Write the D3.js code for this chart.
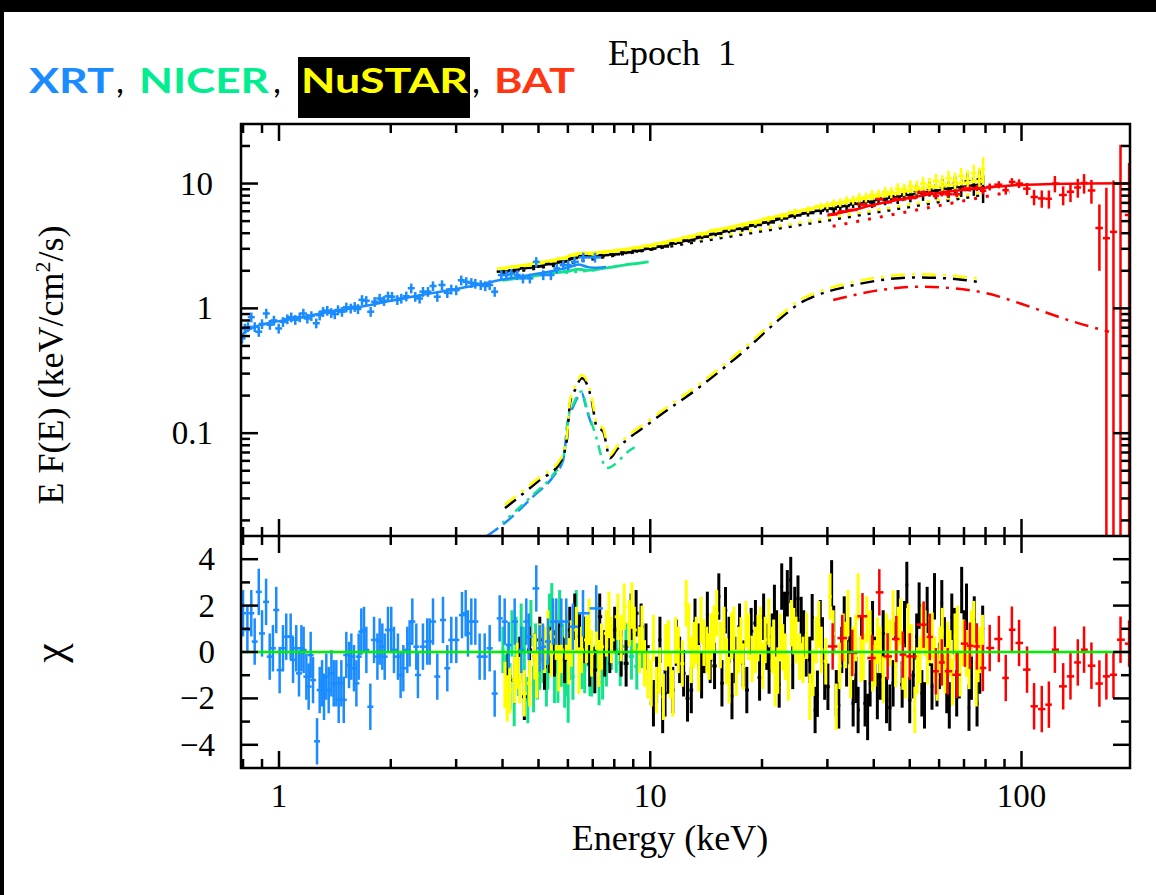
<!DOCTYPE html>
<html lang="en">
<head>
<meta charset="UTF-8" />
<title>Epoch 1 spectrum</title>
<script src="https://cdn.jsdelivr.net/npm/d3@7/dist/d3.min.js"></script>
<style>
    body { margin: 0; background: #fff; }
    svg { display: block; }
    .serif { font-family: "Liberation Serif", "Times New Roman", serif; fill: #000; }
</style>
</head>
<body>
<svg id="chart" width="1156" height="895"></svg>
<script>
    // ---------- data ----------
    const xTickVals = [1, 10, 100];
    const xTickLabels = ["1", "10", "100"];
    const xMinor = [0.8, 0.9, 2, 3, 4, 5, 6, 7, 8, 9, 20, 30, 40, 50, 60, 70, 80, 90];
    const fTickVals = [0.1, 1, 10];
    const fTickLabels = ["0.1", "1", "10"];
    const fMinor = [0.02, 0.03, 0.04, 0.05, 0.06, 0.07, 0.08, 0.09, 0.2, 0.3, 0.4, 0.5, 0.6, 0.7, 0.8, 0.9, 2, 3, 4, 5, 6, 7, 8, 9, 20];
    const cTickVals = [-4, -2, 0, 2, 4];
    const cTickLabels = ["\u22124", "\u22122", "0", "2", "4"];
    const cMinor = [-3, -1, 1, 3];

    const legendNames = ["XRT", "NICER", "NuSTAR", "BAT"];

    // XRT unfolded data
    const xrtE = [0.795, 0.809, 0.825, 0.842, 0.860, 0.882, 0.900, 0.924, 0.945, 0.969, 0.998, 1.025, 1.053, 1.079, 1.106, 1.137, 1.163, 1.192, 1.222, 1.260, 1.287, 1.314, 1.349, 1.383, 1.413, 1.442, 1.478, 1.518, 1.560, 1.599, 1.632, 1.673, 1.718, 1.766, 1.810, 1.867, 1.918, 1.966, 2.015, 2.083, 2.135, 2.202, 2.271, 2.328, 2.392, 2.442, 2.519, 2.599, 2.669, 2.748, 2.840, 2.911, 3.002, 3.097, 3.195, 3.296, 3.379, 3.494, 3.594, 3.694, 3.810, 3.970, 4.095, 4.224, 4.383, 4.541, 4.74, 4.93, 5.15, 5.40, 5.60, 5.83, 6.01, 6.25, 6.60, 7.10];
    const xrtF = [0.575, 0.69, 0.71, 0.85, 0.71, 0.65, 0.75, 0.91, 0.74, 0.80, 0.69, 0.78, 0.82, 0.85, 0.81, 0.85, 0.91, 0.83, 0.87, 0.76, 0.88, 0.94, 0.96, 0.92, 0.90, 0.97, 0.94, 1.02, 1.00, 1.03, 0.99, 1.17, 1.15, 0.94, 1.13, 1.20, 1.15, 1.25, 1.24, 1.17, 1.20, 1.25, 1.45, 1.24, 1.20, 1.36, 1.36, 1.51, 1.24, 1.54, 1.33, 1.42, 1.40, 1.68, 1.63, 1.60, 1.58, 1.54, 1.51, 1.54, 1.36, 1.85, 1.85, 1.90, 1.85, 1.74, 1.74, 2.36, 1.85, 1.85, 2.09, 2.22, 2.22, 2.36, 2.56, 2.56];
    const xrtRelErr = 0.09;
    const xrtModelE = [0.79, 0.82, 0.86, 0.9, 0.95, 1.0, 1.1, 1.2, 1.35, 1.5, 1.75, 2.0, 2.5, 3.0, 3.5, 4.0, 4.5, 5.0, 5.5, 6.0, 6.4, 6.8, 7.2, 7.6];
    const xrtModelF = [0.60, 0.66, 0.71, 0.74, 0.77, 0.79, 0.83, 0.87, 0.93, 0.98, 1.06, 1.15, 1.30, 1.43, 1.56, 1.70, 1.80, 1.90, 2.00, 2.12, 2.25, 2.14, 2.12, 2.14];
    const xrtReflE = [3.63, 4.10, 4.84, 5.48, 5.83, 6.01, 6.20, 6.54, 6.74, 6.95];
    const xrtReflF = [0.015, 0.0196, 0.0311, 0.045, 0.0612, 0.128, 0.163, 0.209, 0.154, 0.117];

    // NICER
    const nicerModelE = [4.0, 4.5, 5.0, 5.5, 6.0, 6.4, 6.8, 7.2, 7.8, 8.5, 9.2, 9.9];
    const nicerModelF = [1.68, 1.76, 1.84, 1.92, 1.98, 2.06, 2.02, 2.06, 2.13, 2.22, 2.29, 2.36];
    const nicerContE = [5.9, 7.3];
    const nicerContF = [1.93, 2.03];
    const nicerReflE = [4.0, 4.84, 5.48, 5.83, 6.01, 6.20, 6.54, 6.74, 6.95, 7.10, 7.63, 9.0, 9.2];
    const nicerReflF = [0.0192, 0.0322, 0.0466, 0.0634, 0.133, 0.169, 0.216, 0.160, 0.121, 0.100, 0.0525, 0.0760, 0.078];

    // NuSTAR FPMA (black) / FPMB (yellow) unfolded data
    const nuE = [4.0, 4.3, 4.6, 5.0, 5.4, 5.8, 6.2, 6.6, 7.0, 7.5, 8.0, 8.6, 9.2, 10.0, 10.8, 11.7, 12.7, 13.8, 15.0, 16.3, 17.7, 19.2, 20.8, 22.6, 24.5, 26.6, 28.8, 30.0, 31.2, 32.5, 33.8, 35.2, 36.6, 38.1, 39.6, 41.2, 42.9, 44.6, 46.4, 48.3, 50.2, 52.2, 54.3, 56.5, 58.8, 61.2, 63.6, 66.2, 68.8, 71.6, 74.4, 77.0, 78.8];
    const nuFA = [1.97, 2.02, 2.11, 2.17, 2.28, 2.37, 2.53, 2.63, 2.60, 2.67, 2.71, 2.81, 2.89, 3.01, 3.13, 3.35, 3.50, 3.75, 3.96, 4.20, 4.33, 4.65, 4.88, 5.25, 5.55, 5.80, 6.05, 6.30, 6.25, 6.55, 6.60, 6.95, 6.85, 7.20, 7.05, 7.60, 7.45, 7.95, 7.70, 8.30, 8.05, 8.70, 8.35, 9.10, 8.70, 9.50, 9.05, 9.90, 9.30, 10.4, 9.60, 10.8, 9.3];
    const nuFB = [2.09, 2.15, 2.20, 2.31, 2.39, 2.51, 2.67, 2.77, 2.73, 2.81, 2.87, 2.96, 3.06, 3.16, 3.33, 3.49, 3.73, 3.94, 4.22, 4.38, 4.65, 4.88, 5.22, 5.48, 5.92, 6.18, 6.58, 6.70, 6.95, 7.05, 7.30, 7.40, 7.70, 7.75, 8.10, 8.15, 8.55, 8.50, 9.05, 8.95, 9.50, 9.35, 10.0, 9.80, 10.5, 10.2, 11.0, 10.6, 11.5, 11.0, 12.1, 11.4, 13.0];
    const nuRelErr = [0.03, 0.03, 0.03, 0.03, 0.031, 0.031, 0.032, 0.032, 0.033, 0.033, 0.034, 0.035, 0.036, 0.037, 0.038, 0.04, 0.042, 0.044, 0.046, 0.048, 0.05, 0.052, 0.055, 0.058, 0.06, 0.063, 0.066, 0.07, 0.073, 0.076, 0.08, 0.083, 0.087, 0.09, 0.094, 0.098, 0.10, 0.105, 0.11, 0.115, 0.12, 0.125, 0.13, 0.135, 0.14, 0.145, 0.15, 0.155, 0.16, 0.165, 0.17, 0.18, 0.25];
    const nuModelE = [4.0, 5.0, 6.0, 6.4, 6.8, 7.5, 8.5, 10, 12, 15, 19, 24, 30, 37, 45, 55, 65, 79];
    const nuModelA = [1.97, 2.18, 2.42, 2.58, 2.60, 2.66, 2.78, 3.01, 3.38, 3.95, 4.62, 5.45, 6.25, 7.0, 7.75, 8.55, 9.2, 9.95];
    const nuModelB = [2.10, 2.33, 2.59, 2.76, 2.78, 2.85, 2.97, 3.22, 3.62, 4.23, 4.94, 5.83, 6.69, 7.49, 8.29, 9.15, 9.84, 10.65];
    const nuContE = [4.0, 13.4, 79];
    const nuContFA = [1.89, 3.42, 8.15];
    const nuContFB = [1.97, 3.56, 8.50];
    const nuReflE = [4.06, 5.05, 5.71, 5.96, 6.08, 6.27, 6.55, 6.95, 7.17, 7.47, 7.79, 8.12, 9.98, 13.6, 18.56, 22.3, 25.3, 27.5, 33.8, 41.6, 51.1, 62.8, 76.4];
    const nuReflFA = [0.0251, 0.0423, 0.0575, 0.088, 0.174, 0.222, 0.275, 0.185, 0.113, 0.103, 0.063, 0.0735, 0.121, 0.235, 0.50, 0.82, 1.10, 1.24, 1.49, 1.68, 1.77, 1.74, 1.63];
    const nuReflFB = [0.0266, 0.0448, 0.0610, 0.0933, 0.184, 0.235, 0.292, 0.196, 0.120, 0.109, 0.0668, 0.0779, 0.128, 0.249, 0.53, 0.87, 1.17, 1.31, 1.58, 1.78, 1.88, 1.84, 1.73];

    // BAT
    const batE = [31.0, 32.9, 35.0, 37.3, 39.6, 41.4, 43.6, 46.0, 47.9, 50.0, 54.5, 56.6, 58.8, 61.0, 63.3, 66.9, 70.4, 72.6, 75.8, 78.7, 82.1, 86.9, 90.7, 94.2, 98.5, 103.5, 108.1, 113.4, 118.5, 123.0, 129.5, 135.5, 141.8, 147.4, 154.3, 162.1, 169.3, 176.9, 184.8, 194.9];
    const batF = [5.65, 5.97, 6.14, 6.8, 6.64, 7.5, 7.08, 7.55, 7.47, 7.65, 8.5, 8.4, 7.95, 8.25, 8.2, 8.2, 9.1, 9.1, 9.2, 8.75, 9.4, 9.8, 8.85, 10.3, 10.0, 9.1, 7.8, 7.6, 7.55, 10.0, 8.1, 8.6, 9.3, 10.1, 8.8, 4.4, 3.65, 4.1, 10.0, 5.6];
    const batFErr = [0.12, 0.12, 0.14, 0.15, 0.16, 0.18, 0.2, 0.22, 0.24, 0.26, 0.3, 0.32, 0.35, 0.37, 0.4, 0.42, 0.45, 0.48, 0.5, 0.55, 0.6, 0.65, 0.7, 0.75, 0.8, 1.0, 1.1, 1.2, 1.25, 1.5, 1.4, 1.5, 1.6, 1.8, 1.9, 2.4, 5.6, 6.5, 10.5, 9.0];
    const batChi = [0.24, 0.6, -0.04, 1.54, -0.26, 2.57, -0.19, 0.56, -0.11, -0.19, 1.18, 0.65, -0.83, -0.45, -0.83, -0.98, 0.36, 0.27, 0.24, -0.69, 0.17, 0.56, -1.12, 0.96, 0.39, -0.76, -2.34, -2.46, -2.27, 0.1, -1.48, -1.05, -0.45, 0.1, -0.59, -1.36, -1.05, -0.98, 0.53, 0.36];
    const batModelE = [30, 35, 40, 50, 60, 70, 80, 90, 100, 120, 150, 196];
    const batModelF = [5.55, 6.1, 6.75, 7.7, 8.45, 8.9, 9.25, 9.55, 9.75, 9.9, 10.0, 10.05];
    const batContE = [31, 93];
    const batContF = [4.55, 8.57];
    const batReflE = [31.1, 41.6, 53.3, 65.4, 80.5, 105.3, 129.5, 172];
    const batReflF = [1.165, 1.40, 1.49, 1.45, 1.32, 1.03, 0.83, 0.65];

    // residuals (chi)
    const xrtResE = [0.800, 0.822, 0.842, 0.860, 0.882, 0.900, 0.923, 0.944, 0.963, 0.983, 1.004, 1.025, 1.046, 1.075, 1.091, 1.113, 1.132, 1.149, 1.165, 1.185, 1.202, 1.217, 1.235, 1.266, 1.287, 1.306, 1.322, 1.341, 1.361, 1.384, 1.404, 1.427, 1.448, 1.472, 1.494, 1.518, 1.544, 1.566, 1.592, 1.616, 1.639, 1.666, 1.694, 1.719, 1.762, 1.803, 1.841, 1.867, 1.898, 1.926, 1.966, 2.006, 2.040, 2.091, 2.126, 2.162, 2.216, 2.248, 2.286, 2.343, 2.367, 2.442, 2.508, 2.546, 2.599, 2.669, 2.765, 2.840, 2.911, 3.003, 3.111, 3.183, 3.228, 3.296, 3.379, 3.471, 3.581, 3.694, 3.810, 3.930, 4.054, 4.156, 4.313, 4.495, 4.636, 4.705, 4.932, 5.037, 5.141, 5.303, 5.470, 5.584, 5.760, 5.940, 6.191, 6.589, 7.154];
    const xrtChi = [1.67, 0.95, 1.67, 0.45, 2.59, 0.80, 2.16, -0.20, 0.16, 1.81, -0.78, 0.16, 0.66, 0.66, -0.34, 0.16, -0.92, 0.16, 0.09, -1.06, -1.49, -0.13, -1.21, -3.85, -1.64, -1.35, -1.93, -1.06, -1.64, -0.92, -1.35, -1.35, -2.06, -1.35, -2.06, -0.13, -0.56, -0.20, -0.70, -1.35, -0.20, 0.88, 0.95, 0.09, -2.36, 0.52, -0.20, 0.45, 0.23, -0.20, 0.95, 0.95, 0.09, -0.20, -0.99, -0.70, 0.09, 0.37, 1.31, 0.23, -0.99, 0.23, 0.45, 0.45, 1.31, -1.06, 1.38, -0.70, 0.52, 0.52, 1.59, 1.67, 0.80, 1.31, 1.31, -0.20, -0.20, 0.16, -1.79, 1.45, 1.31, 0.30, 1.31, 0.09, 1.31, 0.66, 2.74, 0.16, 0.23, 0.45, 1.31, 1.31, 1.31, 1.31, 1.09, 1.67, 1.88];
    const nicerResE = [4.01, 4.08, 4.14, 4.19, 4.24, 4.30, 4.35, 4.42, 4.49, 4.58, 4.68, 4.77, 4.85, 4.91, 4.97, 5.04, 5.14, 5.25, 5.30, 5.35, 5.43, 5.46, 5.52, 5.58, 5.64, 5.70, 5.76, 5.81, 5.88, 5.94, 6.01, 6.08, 6.19, 6.32, 6.45, 6.55, 6.66, 6.79, 6.88, 6.95, 7.16, 7.28, 7.44, 7.62, 7.86, 8.10, 8.30, 8.60, 8.90, 9.20, 9.50];
    const nicerChi = [0.09, -1.1, -0.63, -1.48, 0.80, -2.2, 0.52, -0.9, 1.09, 0.09, -2.07, 1.24, -1.6, 0.23, -1.05, -0.63, -0.34, -1.35, -0.62, 1.52, 1.97, 1.09, -1.2, 0.09, -1.19, 1.67, -0.5, 0.23, -1.4, -0.92, -2.05, -0.20, -1.06, 1.67, 0.37, -0.6, -0.78, 0.37, -0.9, -0.92, 0.23, -1.3, -1.05, -0.49, 0.23, 0.1, -0.47, 0.24, -0.19, -0.62, 0.3];
    const nuAResE = [4.14, 4.31, 4.45, 4.58, 4.73, 4.88, 5.04, 5.19, 5.35, 5.52, 5.70, 5.88, 6.07, 6.26, 6.45, 6.66, 6.87, 7.09, 7.31, 7.54, 7.78, 8.02, 8.35, 8.61, 8.88, 9.16, 9.45, 9.74,
        10.2, 10.4, 10.62, 10.8, 10.96, 11.2, 11.5, 11.75, 12.0, 12.3, 12.6, 12.9, 13.2, 13.5, 13.75, 14.0, 14.25, 14.5, 14.9, 15.3, 15.6, 15.95, 16.3, 16.6, 16.9, 17.4, 17.8, 18.2, 18.7, 19.2, 19.7, 20.2, 20.6, 20.9, 21.3, 21.6, 21.9, 22.25, 22.6, 23.0, 23.4, 23.9, 24.2, 24.5, 25.0, 25.5, 25.9, 26.3, 26.9, 27.3, 27.8, 28.2, 28.7, 29.1, 29.5, 30.1, 30.8, 31.2, 31.7, 32.2, 32.8, 33.3, 33.8, 34.5, 35.2, 35.8, 36.3, 37.1, 37.9, 38.5, 39.1, 39.7, 40.3, 40.9, 41.6, 42.4, 43.3, 44.2, 45.1, 45.8, 46.5, 47.7, 48.4, 49.1, 50.0, 51.1, 52.2, 53.0, 53.9, 54.8, 55.7, 56.5, 57.4, 58.3, 59.2, 60.1, 61.0, 62.0, 62.9, 63.9, 64.9, 65.9, 66.9, 68.0, 69.0, 70.0, 71.1, 72.2, 73.3, 74.6, 75.9, 77.2, 78.6];
    const nuAChi = [-1.06, -1.21, -0.34, -1.93, 0.09, -0.20, 0.52, -0.63, 0.09, -0.06, 0.23, -0.34, 0.95, 1.52, 0.66, 0.52, -0.49, -0.78, 1.52, -0.06, 0.09, 0.95, -0.06, -0.49, 1.52, 1.67, 1.09, 0.23,
        -2.21, -1.2, 0.52, -2.5, -1.78, -0.8, -1.64, 0.4, -0.34, -0.92, -2.0, -1.64, 1.3, 0.23, -1.0, 0.09, 1.6, -0.34, -0.6, 2.39, -1.35, 1.8, 0.52, -1.9, -0.34, 1.09, -0.5, -1.64, 0.9, 1.24, -1.1, 1.52, 0.23, -0.8, 0.66, 1.9, 0.80, -1.4, 2.82, 1.6, 2.53, 3.10, -0.6, 1.81, 2.3, 1.38, 0.8, -0.06, -0.34, 1.5, -2.50, -1.8, 1.24, 0.5, -1.06, -1.5, 2.96, 1.0, -1.78, -2.3, 0.09, 1.4, -0.49, 0.5, -2.21, -1.2, -2.50, 0.6, -2.21, -2.8, -1.35, 1.2, -0.34, -1.9, -1.06, 0.8, -2.07, -2.4, -1.35, 0.3, 1.67, -1.4, 1.2, 2.89, -2.07, -1.0, 0.66, 2.0, -1.78, -2.3, 1.81, 0.4, -1.49, 2.4, -1.35, -0.6, 2.10, 0.5, -1.64, -2.3, 1.52, 0.9, -1.78, -1.0, 2.67, 0.8, 1.95, -2.4, -1.06, 1.4, -2.21, -0.8, 1.0];
    const nuBResE = [4.06, 4.12, 4.18, 4.31, 4.38, 4.45, 4.58, 4.73, 4.88, 4.95, 5.04, 5.19, 5.3, 5.41, 5.58, 5.67, 5.76, 5.94, 6.03, 6.13, 6.32, 6.42, 6.53, 6.73, 6.84, 6.95, 7.16, 7.27, 7.39, 7.62, 7.74, 7.86, 8.18, 8.35, 8.51, 8.78, 8.92, 9.06, 9.35, 9.5, 9.65, 9.85,
        10.06, 10.2, 10.39, 10.6, 10.85, 11.0, 11.2, 11.35, 11.5, 11.7, 11.9, 12.2, 12.5, 12.7, 12.9, 13.1, 13.3, 13.5, 13.7, 13.95, 14.2, 14.4, 14.6, 14.85, 15.1, 15.45, 15.8, 16.05, 16.3, 16.55, 16.8, 17.05, 17.3, 17.55, 17.8, 18.1, 18.4, 18.8, 19.2, 19.5, 19.8, 20.1, 20.4, 20.85, 21.3, 21.5, 21.7, 22.05, 22.4, 22.75, 23.1, 23.55, 24.0, 24.35, 24.7, 25.25, 25.8, 26.35, 26.9, 27.45, 28.0, 28.45, 28.9, 29.7, 30.5, 31.1, 31.7, 32.4, 33.1, 33.6, 34.1, 34.65, 35.2, 35.75, 36.3, 36.9, 37.5, 38.3, 39.1, 39.7, 40.3, 40.95, 41.6, 42.45, 43.3, 44.2, 45.1, 45.8, 46.5, 47.2, 47.9, 48.7, 49.5, 50.5, 51.6, 52.4, 53.3, 54.1, 55.0, 55.8, 56.7, 57.5, 58.4, 59.3, 60.3, 61.2, 62.2, 63.2, 64.2, 65.2, 66.2, 67.2, 68.3, 69.7, 71.1, 72.2, 73.3, 74.4, 75.5, 76.4, 77.3, 78.5];
    const nuBChi = [-1.42, -2.0, -1.64, -1.21, -0.6, -1.21, -1.78, -1.35, -0.20, -1.0, 0.23, 0.09, 0.8, -0.06, 0.66, -0.7, 0.09, 0.66, -0.4, 0.37, 0.95, -0.8, 0.09, 0.52, 1.3, -0.06, 1.09, -0.5, 0.23, 0.80, 1.6, 0.52, 1.52, 0.6, 1.95, 1.24, 2.0, 0.95, 0.09, 1.0, -0.49, -1.0,
        -1.35, 0.6, -1.64, -0.8, -1.93, 0.2, 0.37, -1.0, -1.78, 0.5, 0.09, -0.5, 2.10, 1.1, -0.34, 0.3, 0.52, -0.7, 1.38, 0.4, 0.09, -0.2, 0.66, 1.0, 1.67, 0.3, 0.95, -0.4, -1.21, 0.7, 0.95, -0.9, 0.09, 0.5, -0.63, 1.2, 0.66, -0.3, 0.09, 0.6, 0.95, -0.6, 0.52, 1.3, 0.09, 0.4, -1.35, -0.8, 0.66, 0.2, -0.20, -1.1, 1.24, 0.9, 0.52, -0.2, -0.34, 0.7, -1.93, -0.9, 0.52, 1.2, 0.09, -0.4, 2.39, 0.8, -2.36, -0.6, 0.66, 0.3, 1.67, -1.0, 0.09, 0.6, 2.39, -0.3, -0.20, 1.4, 0.80, -0.7, -0.49, 0.5, 0.09, -1.2, 0.66, 0.4, 1.67, -0.5, 0.95, 1.3, -0.63, -1.0, 1.09, 0.2, -2.50, -0.8, -0.34, 1.1, 0.80, -0.4, 0.52, 0.7, -0.34, -1.1, 0.09, 0.9, -0.78, 0.3, -0.06, -1.3, 0.66, 1.0, -0.92, 0.4, -0.06, -0.6, 0.80, 1.2, -1.35, -0.3, 0.09, 0.6];

    // ---------- layout ----------
    const W = 1156, H = 895;
    const L = 241, R = 1130, T = 124, M = 536, B = 768;
    const colXRT = "#1a8cff", colNICER = "#12e38a", colNu = "#ffff00", colBAT = "#ff0000";

    const x = d3.scaleLog().domain([0.79, 196]).range([L, R]);
    const yF = d3.scaleLog().domain([0.015, 30]).range([M, T]);
    const yC = d3.scaleLinear().domain([-5, 5]).range([B, M]);

    const svg = d3.select("#chart");
    svg.append("rect").attr("width", W).attr("height", H).attr("fill", "#fff");
    svg.append("rect").attr("width", W).attr("height", 12).attr("fill", "#000");
    svg.append("rect").attr("width", 4).attr("height", H).attr("fill", "#000");

    const defs = svg.append("defs");
    defs.append("clipPath").attr("id", "clipTop").append("rect")
        .attr("x", L).attr("y", T).attr("width", R - L).attr("height", M - T);
    defs.append("clipPath").attr("id", "clipBot").append("rect")
        .attr("x", L).attr("y", M).attr("width", R - L).attr("height", B - M);

    const gTop = svg.append("g").attr("clip-path", "url(#clipTop)");
    const gBot = svg.append("g").attr("clip-path", "url(#clipBot)");

    // bin edges halfway (in log E) to the neighbours
    function binEdges(E) {
        const lg = E.map(e => Math.log10(e));
        return lg.map((l, i) => {
            const dl = i > 0 ? l - lg[i - 1] : lg[i + 1] - l;
            const dr = i < lg.length - 1 ? lg[i + 1] - l : l - lg[i - 1];
            return [Math.pow(10, l - dl / 2), Math.pow(10, l + dr / 2)];
        });
    }

    function crosses(g, E, yMid, yLo, yHi, color, sw, minHalf) {
        const edges = binEdges(E);
        const mh = minHalf || 0;
        const pts = E.map((e, i) => ({
            px: x(e),
            x0: Math.min(x(edges[i][0]), x(e) - mh),
            x1: Math.max(x(edges[i][1]), x(e) + mh),
            m: yMid[i], lo: yLo[i], hi: yHi[i]
        }));
        const grp = g.append("g").attr("stroke", color).attr("stroke-width", sw);
        grp.selectAll("line.v").data(pts).join("line").attr("class", "v")
            .attr("x1", d => d.px).attr("x2", d => d.px)
            .attr("y1", d => d.lo).attr("y2", d => d.hi);
        grp.selectAll("line.h").data(pts).join("line").attr("class", "h")
            .attr("x1", d => d.x0).attr("x2", d => d.x1)
            .attr("y1", d => d.m).attr("y2", d => d.m);
    }

    function fluxCrosses(E, F, err, color, sw, minHalf) {
        const lo = F.map((f, i) => f - err[i] > 0 ? yF(f - err[i]) : M + 10);
        const hi = F.map((f, i) => yF(f + err[i]));
        crosses(gTop, E, F.map(yF), lo, hi, color, sw, minHalf);
    }

    function chiCrosses(E, C, color, sw, minHalf) {
        crosses(gBot, E, C.map(yC), C.map(c => yC(c - 1)), C.map(c => yC(c + 1)), color, sw, minHalf);
    }

    const lineF = d3.line().x(d => x(d[0])).y(d => yF(d[1])).curve(d3.curveMonotoneX);
    function modelLine(E, F, color, sw, dash, offset) {
        gTop.append("path").datum(d3.zip(E, F))
            .attr("d", lineF).attr("fill", "none")
            .attr("stroke", color).attr("stroke-width", sw)
            .attr("stroke-dasharray", dash || null)
            .attr("stroke-dashoffset", offset || 0);
    }

    // ---------- upper panel ----------
    modelLine(xrtReflE, xrtReflF, colXRT, 2.5, "14,6");
    modelLine(nicerReflE, nicerReflF, colNICER, 2.5, "10,6,3,6", 8);
    modelLine(nuReflE, nuReflFA, "#000", 2.5, "14,7,3,7");
    modelLine(nuReflE, nuReflFB, colNu, 2.5, "14,7,3,7");
    modelLine(batReflE, batReflF, colBAT, 2.5, "14,7,3,7");
    modelLine(nuContE, nuContFA, "#000", 3, "3,7");
    modelLine(nuContE, nuContFB, colNu, 3, "3,7");
    modelLine(batContE, batContF, colBAT, 3, "3,9");
    modelLine(nicerContE, nicerContF, colNICER, 2.5, "3,6");

    fluxCrosses(nuE, nuFA, nuFA.map((f, i) => f * nuRelErr[i]), "#000", 2.5);
    modelLine(nuModelE, nuModelA, "#000", 2);
    fluxCrosses(nuE, nuFB, nuFB.map((f, i) => f * nuRelErr[i]), colNu, 2.5);
    modelLine(nuModelE, nuModelB, colNu, 2.5);
    modelLine(nicerModelE, nicerModelF, colNICER, 3);
    modelLine(xrtModelE, xrtModelF, colXRT, 2.5);
    fluxCrosses(xrtE, xrtF, xrtF.map(f => f * xrtRelErr), colXRT, 2.5, 3.5);
    modelLine(batModelE, batModelF, colBAT, 2.5);
    fluxCrosses(batE, batF, batFErr, colBAT, 2.5, 3);

    // ---------- lower panel ----------
    chiCrosses(nicerResE, nicerChi, colNICER, 3);
    chiCrosses(nuAResE, nuAChi, "#000", 3);
    chiCrosses(nuBResE, nuBChi, colNu, 3);
    chiCrosses(xrtResE, xrtChi, colXRT, 2.5, 3);
    chiCrosses(batE, batChi, colBAT, 2.5, 3);
    gBot.append("line").attr("x1", L).attr("x2", R).attr("y1", yC(0)).attr("y2", yC(0))
        .attr("stroke", "#00ee00").attr("stroke-width", 2.5);

    // ---------- frames and ticks ----------
    const axes = svg.append("g").attr("stroke", "#000").attr("stroke-width", 2.5).attr("fill", "none");
    axes.append("rect").attr("x", L).attr("y", T).attr("width", R - L).attr("height", B - T);
    axes.append("line").attr("x1", L).attr("x2", R).attr("y1", M).attr("y2", M);

    const majLen = 17, minLen = 9;
    function xTicks(y0, dir) {
        axes.selectAll(null).data(xTickVals).join("line")
            .attr("x1", d => x(d)).attr("x2", d => x(d)).attr("y1", y0).attr("y2", y0 + dir * majLen);
        axes.selectAll(null).data(xMinor).join("line")
            .attr("x1", d => x(d)).attr("x2", d => x(d)).attr("y1", y0).attr("y2", y0 + dir * minLen);
    }
    xTicks(T, 1); xTicks(M, -1); xTicks(M, 1); xTicks(B, -1);

    function yTicks(scale, major, minor) {
        [[L, 1], [R, -1]].forEach(([x0, dir]) => {
            axes.selectAll(null).data(major).join("line")
                .attr("x1", x0).attr("x2", x0 + dir * majLen).attr("y1", d => scale(d)).attr("y2", d => scale(d));
            axes.selectAll(null).data(minor).join("line")
                .attr("x1", x0).attr("x2", x0 + dir * minLen).attr("y1", d => scale(d)).attr("y2", d => scale(d));
        });
    }
    yTicks(yF, fTickVals, fMinor);
    yTicks(yC, cTickVals, cMinor);

    // ---------- labels ----------
    const labels = svg.append("g").attr("class", "serif");
    labels.selectAll(null).data(xTickVals).join("text")
        .attr("x", d => x(d)).attr("y", 807).attr("text-anchor", "middle")
        .attr("font-size", 33).text((d, i) => xTickLabels[i]);
    labels.selectAll(null).data(fTickVals).join("text")
        .attr("x", 213).attr("y", d => yF(d) + 11).attr("text-anchor", "end")
        .attr("font-size", 33).text((d, i) => fTickLabels[i]);
    labels.selectAll(null).data(cTickVals).join("text")
        .attr("x", 215).attr("y", d => yC(d) + 11).attr("text-anchor", "end")
        .attr("font-size", 33).text((d, i) => cTickLabels[i]);

    labels.append("text").attr("x", 670).attr("y", 850).attr("text-anchor", "middle")
        .attr("font-size", 36).text("Energy (keV)");

    const yl = labels.append("text").attr("transform", "translate(63,365) rotate(-90)")
        .attr("text-anchor", "middle").attr("font-size", 36);
    yl.append("tspan").text("E F(E) (keV/cm");
    yl.append("tspan").attr("font-size", 22).attr("dy", -13).text("2");
    yl.append("tspan").attr("dy", 13).text("/s)");

    labels.append("text").attr("transform", "translate(64,653) rotate(-90)")
        .attr("text-anchor", "middle").attr("font-size", 44).text("\u03c7");

    labels.append("text").attr("x", 608).attr("y", 65).attr("font-size", 36)
        .style("white-space", "pre").text("Epoch  1");

    // legend
    const legendColors = [colXRT, "#00ee90", "#ffff00", "#ff3614"];
    const legX = [29, 139, 301, 494], legW = [85, 130, 167, 81];
    svg.append("rect").attr("x", 298).attr("y", 57).attr("width", 172).attr("height", 61).attr("fill", "#000");
    const leg = svg.append("g").attr("font-family", "Lato, 'Open Sans', sans-serif")
        .attr("font-weight", 700).attr("font-size", 35);
    leg.selectAll("text.name").data(legendNames).join("text").attr("class", "name")
        .attr("x", (d, i) => legX[i]).attr("y", 93)
        .attr("textLength", (d, i) => legW[i]).attr("lengthAdjust", "spacingAndGlyphs")
        .attr("fill", (d, i) => legendColors[i]).text(d => d);
    leg.selectAll("text.comma").data([114, 271, 470]).join("text").attr("class", "comma")
        .attr("x", d => d + 2).attr("y", 93).attr("fill", "#000").attr("font-weight", 400).text(",");
</script>
</body>
</html>
